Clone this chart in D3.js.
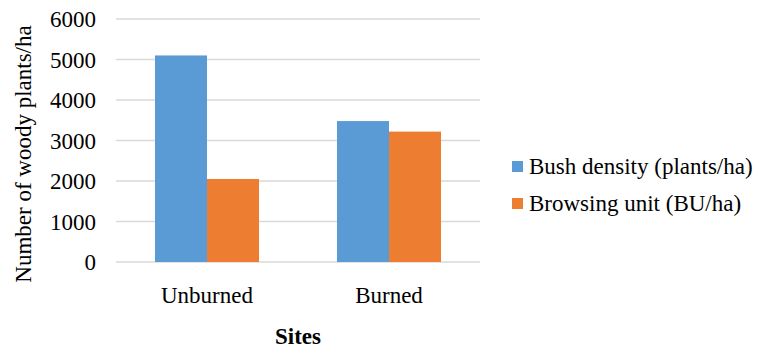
<!DOCTYPE html>
<html>
<head>
<meta charset="utf-8">
<script src="https://cdn.jsdelivr.net/npm/d3@7"></script>
</head>
<body style="margin:0;background:#fff">
<div id="chart"></div>
<script>
var sites = ["Unburned", "Burned"];
var seriesNames = ["Bush density (plants/ha)", "Browsing unit (BU/ha)"];
var bushDensity = [5100, 3480];
var browsingUnit = [2050, 3220];
var yTicks = [0, 1000, 2000, 3000, 4000, 5000, 6000];
var colors = ["#5b9bd5", "#ed7d31"];

var width = 758, height = 348;
var margin = { top: 19, left: 116, right: 278, bottom: 86 };
var plotW = width - margin.left - margin.right;
var plotH = height - margin.top - margin.bottom;

var svg = d3.select("#chart").append("svg")
    .attr("width", width)
    .attr("height", height)
    .style("font-family", "'Liberation Serif', serif")
    .style("font-size", "23px");

var g = svg.append("g")
    .attr("transform", "translate(" + margin.left + "," + margin.top + ")");

var x = d3.scaleBand()
    .domain(sites)
    .range([0, plotW])
    .paddingInner(0.4286)
    .paddingOuter(0.2143);

var x1 = d3.scaleBand()
    .domain([0, 1])
    .range([0, x.bandwidth()]);

var y = d3.scaleLinear()
    .domain([0, 6000])
    .range([plotH, 0]);

// gridlines
g.selectAll(".grid")
  .data(yTicks)
  .enter().append("line")
    .attr("x1", 0)
    .attr("x2", plotW)
    .attr("y1", function(d) { return y(d); })
    .attr("y2", function(d) { return y(d); })
    .attr("stroke", "#d9d9d9")
    .attr("stroke-width", 1.3);

// y tick labels
g.selectAll(".ytick")
  .data(yTicks)
  .enter().append("text")
    .attr("x", -20)
    .attr("y", function(d) { return y(d); })
    .attr("dy", "0.35em")
    .attr("text-anchor", "end")
    .text(d3.format("d"));

var series = [bushDensity, browsingUnit];

var groups = g.selectAll(".site")
  .data(sites)
  .enter().append("g")
    .attr("transform", function(d) { return "translate(" + x(d) + ",0)"; });

groups.selectAll("rect")
  .data(function(d, i) { return series.map(function(s, j) { return { k: j, v: s[i] }; }); })
  .enter().append("rect")
    .attr("x", function(d) { return x1(d.k); })
    .attr("width", x1.bandwidth())
    .attr("y", function(d) { return y(d.v); })
    .attr("height", function(d) { return plotH - y(d.v); })
    .attr("fill", function(d) { return colors[d.k]; });

// x labels
g.selectAll(".xlab")
  .data(sites)
  .enter().append("text")
    .attr("x", function(d) { return x(d) + x.bandwidth() / 2; })
    .attr("y", plotH + 41)
    .attr("text-anchor", "middle")
    .text(function(d) { return d; });

// axis titles
g.append("text")
    .attr("x", plotW / 2)
    .attr("y", plotH + 82)
    .attr("text-anchor", "middle")
    .style("font-weight", "bold")
    .text("Sites");

svg.append("text")
    .attr("transform", "translate(31,154) rotate(-90)")
    .attr("text-anchor", "middle")
    .text("Number of woody plants/ha");

// legend
var legend = svg.append("g")
    .attr("transform", "translate(512,161)");

var li = legend.selectAll(".li")
  .data(seriesNames)
  .enter().append("g")
    .attr("transform", function(d, i) { return "translate(0," + (i * 37) + ")"; });

li.append("rect")
    .attr("width", 11)
    .attr("height", 11)
    .attr("fill", function(d, i) { return colors[i]; });

li.append("text")
    .attr("x", 17)
    .attr("y", 13)
    .text(function(d) { return d; });
</script>
</body>
</html>
